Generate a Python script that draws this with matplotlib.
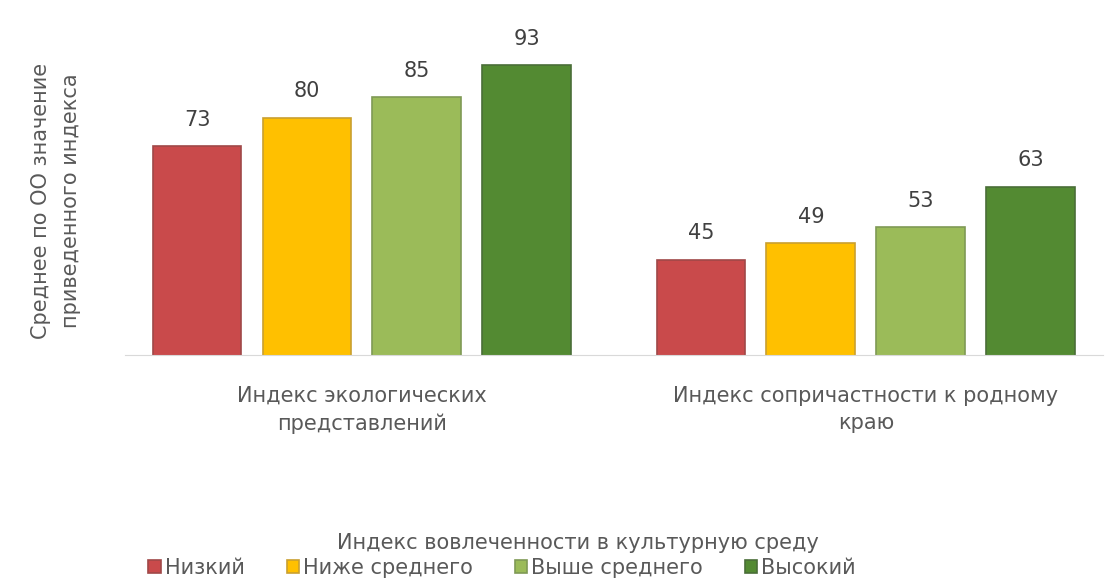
import matplotlib.pyplot as plt
import numpy as np

categories = ["Индекс экологических\nпредставлений",
              "Индекс сопричастности к родному\nкраю"]
levels = ["Низкий", "Ниже среднего", "Выше среднего", "Высокий"]
values = [[73, 45],
          [80, 49],
          [85, 53],
          [93, 63]]
colors = ["#C94A4B", "#FFC000", "#9BBB59", "#538A32"]
edges = ["#A04848", "#C9A030", "#7F9A55", "#4A6E38"]

plt.rcParams['font.family'] = ['DejaVu Sans']
txt = "#595959"
fs = 15

fig = plt.figure(figsize=(11.16, 5.83), dpi=100)
ax = fig.add_axes([0.112, 0.391, 0.876, 0.557])

x = np.arange(len(categories))
step = 0.218
width = 0.176
for i, lvl in enumerate(levels):
    pos = x + (i - 1.5) * step
    bars = ax.bar(pos, values[i], width, color=colors[i],
                  edgecolor=edges[i], linewidth=1.2, label=lvl)
    for b, v in zip(bars, values[i]):
        ax.text(b.get_x() + b.get_width() / 2, v + 4.0, str(v),
                ha='center', va='bottom', fontsize=fs, color="#404040")

ax.set_ylim(21.5, 101.5)
ax.set_xlim(-0.47, 1.47)
ax.set_yticks([])
ax.set_xticks(x)
ax.set_xticklabels(categories, fontsize=fs, color=txt, linespacing=1.45)
ax.tick_params(axis='x', length=0, pad=22)
for s in ['top', 'right', 'left']:
    ax.spines[s].set_visible(False)
ax.spines['bottom'].set_color("#D9D9D9")

fig.text(0.050, 0.655, "Среднее по ОО значение\nприведенного индекса",
         rotation=90, ha='center', va='center', fontsize=fs, color=txt,
         linespacing=1.6)

fig.text(0.518, 0.069, "Индекс вовлеченности в культурную среду",
         ha='center', va='center', fontsize=fs, color=txt)
leg = fig.legend(loc='center', bbox_to_anchor=(0.45, 0.026), ncol=4,
                 frameon=False, fontsize=fs, handlelength=0.6,
                 handleheight=0.6, columnspacing=2.0, handletextpad=0.2,
                 borderpad=0)
for t in leg.get_texts():
    t.set_color(txt)

fig.savefig("out.png", dpi=100)
